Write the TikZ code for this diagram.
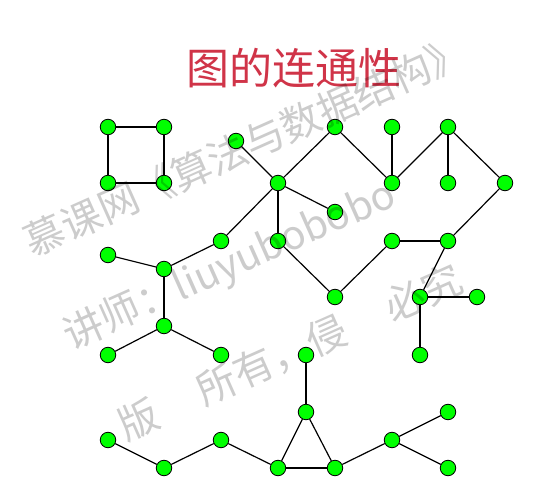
\documentclass[tikz,border=0pt]{standalone}
\usepackage{fontspec}
\newfontfamily\cjk{Noto Sans CJK SC}
\definecolor{titlered}{RGB}{208,52,72}

\begin{document}
\begin{tikzpicture}
  [x=1pt,y=-1pt,
   vertex/.style={circle,draw,fill=green,line width=.8pt,inner sep=0pt,minimum size=15.5pt},
   mark text/.style={font=\cjk\fontsize{40}{40}\selectfont,text=black,text opacity=.2,rotate=24}]
  \useasboundingbox (0,0) rectangle (555,486);

  \node[font=\cjk\fontsize{43}{43}\selectfont,text=titlered] (title) at (294,68) {图的连通性};

  \node[vertex] (v1) at (108,127) {};
  \node[vertex] (v2) at (164,127) {};
  \node[vertex] (v3) at (108,183) {};
  \node[vertex] (v4) at (164,183) {};
  \node[vertex] (v5) at (236,141) {};
  \node[vertex] (v6) at (278,183) {};
  \node[vertex] (v7) at (335,127) {};
  \node[vertex] (v8) at (392,127) {};
  \node[vertex] (v9) at (448,127) {};
  \node[vertex] (v10) at (392,183) {};
  \node[vertex] (v11) at (448,183) {};
  \node[vertex] (v12) at (505,183) {};
  \node[vertex] (v13) at (335,212) {};
  \node[vertex] (v14) at (221,241) {};
  \node[vertex] (v15) at (278,241) {};
  \node[vertex] (v16) at (392,241) {};
  \node[vertex] (v17) at (448,241) {};
  \node[vertex] (v18) at (108,255) {};
  \node[vertex] (v19) at (164,269) {};
  \node[vertex] (v20) at (335,297) {};
  \node[vertex] (v21) at (420,297) {};
  \node[vertex] (v22) at (477,297) {};
  \node[vertex] (v23) at (164,326) {};
  \node[vertex] (v24) at (108,355) {};
  \node[vertex] (v25) at (221,355) {};
  \node[vertex] (v26) at (306,355) {};
  \node[vertex] (v27) at (420,355) {};
  \node[vertex] (v28) at (306,412) {};
  \node[vertex] (v29) at (448,412) {};
  \node[vertex] (v30) at (108,440) {};
  \node[vertex] (v31) at (164,468) {};
  \node[vertex] (v32) at (221,440) {};
  \node[vertex] (v33) at (278,468) {};
  \node[vertex] (v34) at (335,468) {};
  \node[vertex] (v35) at (392,440) {};
  \node[vertex] (v36) at (448,468) {};

\foreach \from/\to in
{v1/v2, v1/v3, v2/v4, v3/v4, v5/v6, v6/v7, v7/v10, v8/v10, v10/v9,
 v9/v11, v9/v12, v6/v13, v6/v15, v6/v14, v14/v19, v18/v19, v19/v23,
 v23/v24, v23/v25, v15/v20, v20/v16, v16/v17, v17/v12, v17/v21,
 v21/v22, v21/v27, v26/v28, v28/v33, v28/v34, v33/v34, v30/v31,
 v31/v32, v32/v33, v34/v35, v35/v29, v35/v36}
    \draw[line width=1.2pt] (\from) -- (\to);

  % watermark
  \node[mark text] (mark1) at (246,146) {慕课网《算法与数据结构》};
  \node[mark text] (mark2) at (230,266) {讲师：liuyubobobo};
  \node[mark text] (mark3) at (290,352) {版\hspace{1.15em}所有，侵\hspace{1.15em}必究};

\end{tikzpicture}
\end{document}
